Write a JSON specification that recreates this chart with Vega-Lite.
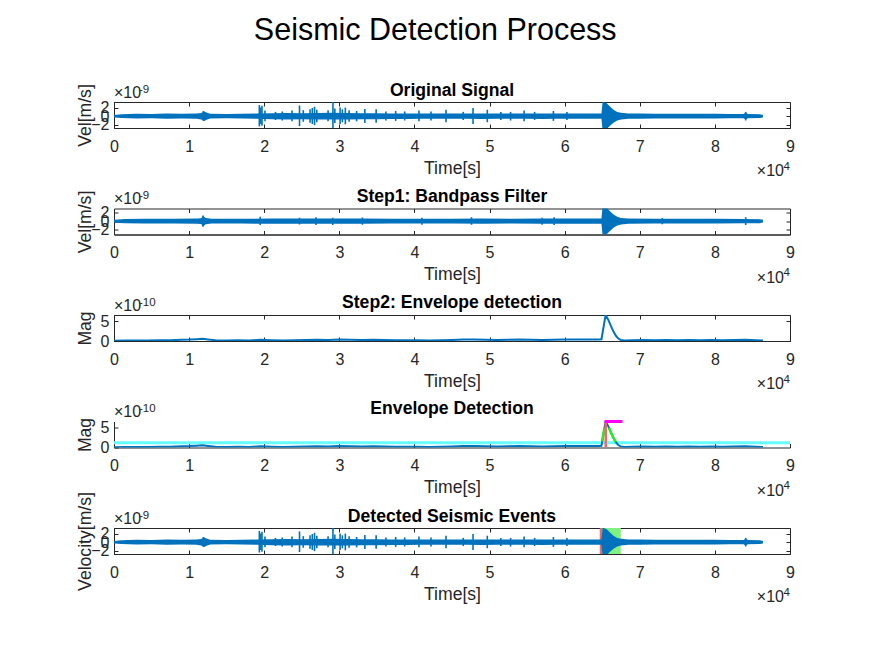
{
  "$schema": "https://vega.github.io/schema/vega-lite/v6.json",
  "padding": {"left": 75, "top": 16, "right": 5, "bottom": 5},
  "background": "white",
  "title": {"text": "Seismic Detection Process", "fontSize": 30.5, "fontWeight": "normal", "color": "#000000", "anchor": "middle", "frame": "bounds", "offset": 34.5, "font": "Liberation Sans"},
  "config": {
    "font": "Liberation Sans",
    "view": {"stroke": "#262626", "strokeWidth": 1},
    "axis": {"grid": false, "labelFontSize": 16, "titleFontSize": 17.6, "titleFontWeight": "normal", "labelColor": "#262626", "titleColor": "#262626", "domainColor": "#262626", "tickColor": "#262626", "tickSize": -4, "labelFont": "Liberation Sans", "titleFont": "Liberation Sans"}
  },
  "datasets": {
    "sig1": [
      {"t": 0, "lo": -0.3, "hi": 0.3}, {"t": 1000, "lo": -0.45, "hi": 0.45}, {"t": 3000, "lo": -0.55, "hi": 0.55}, {"t": 5000, "lo": -0.5, "hi": 0.5},
      {"t": 7000, "lo": -0.6, "hi": 0.6}, {"t": 9000, "lo": -0.55, "hi": 0.55}, {"t": 11000, "lo": -0.6, "hi": 0.6}, {"t": 11600, "lo": -0.75, "hi": 0.75},
      {"t": 12000, "lo": -1.1, "hi": 1.1}, {"t": 12400, "lo": -0.8, "hi": 0.8}, {"t": 12800, "lo": -0.55, "hi": 0.55}, {"t": 15000, "lo": -0.5, "hi": 0.5},
      {"t": 17000, "lo": -0.55, "hi": 0.55}, {"t": 19000, "lo": -0.6, "hi": 0.6}, {"t": 21000, "lo": -0.7, "hi": 0.7}, {"t": 23000, "lo": -0.75, "hi": 0.75},
      {"t": 25000, "lo": -0.7, "hi": 0.7}, {"t": 27000, "lo": -0.75, "hi": 0.75}, {"t": 29000, "lo": -0.8, "hi": 0.8}, {"t": 31000, "lo": -0.75, "hi": 0.75},
      {"t": 33000, "lo": -0.7, "hi": 0.7}, {"t": 35000, "lo": -0.7, "hi": 0.7}, {"t": 37000, "lo": -0.65, "hi": 0.65}, {"t": 39000, "lo": -0.65, "hi": 0.65},
      {"t": 41000, "lo": -0.6, "hi": 0.6}, {"t": 43000, "lo": -0.6, "hi": 0.6}, {"t": 45000, "lo": -0.6, "hi": 0.6}, {"t": 47000, "lo": -0.6, "hi": 0.6},
      {"t": 49000, "lo": -0.65, "hi": 0.65}, {"t": 51000, "lo": -0.6, "hi": 0.6}, {"t": 53000, "lo": -0.6, "hi": 0.6}, {"t": 55000, "lo": -0.6, "hi": 0.6},
      {"t": 57000, "lo": -0.65, "hi": 0.65}, {"t": 59000, "lo": -0.6, "hi": 0.6}, {"t": 61000, "lo": -0.6, "hi": 0.6}, {"t": 63000, "lo": -0.6, "hi": 0.6},
      {"t": 64900, "lo": -0.6, "hi": 0.6}, {"t": 65050, "lo": -3.4, "hi": 3.4}, {"t": 65600, "lo": -3.0, "hi": 3.0}, {"t": 66000, "lo": -2.3, "hi": 2.3},
      {"t": 66500, "lo": -1.5, "hi": 1.5}, {"t": 67000, "lo": -1.0, "hi": 1.0}, {"t": 67500, "lo": -0.8, "hi": 0.8}, {"t": 68500, "lo": -0.6, "hi": 0.6},
      {"t": 70000, "lo": -0.6, "hi": 0.6}, {"t": 72000, "lo": -0.55, "hi": 0.55}, {"t": 74000, "lo": -0.55, "hi": 0.55}, {"t": 76000, "lo": -0.55, "hi": 0.55},
      {"t": 78000, "lo": -0.55, "hi": 0.55}, {"t": 80000, "lo": -0.55, "hi": 0.55}, {"t": 82000, "lo": -0.5, "hi": 0.5}, {"t": 83800, "lo": -0.5, "hi": 0.5},
      {"t": 84100, "lo": -0.8, "hi": 0.8}, {"t": 84400, "lo": -0.5, "hi": 0.5}, {"t": 86000, "lo": -0.45, "hi": 0.45}, {"t": 86400, "lo": -0.3, "hi": 0.3}
    ],
    "spk1": [
      {"t": 11900, "lo": -1.1, "hi": 1.2}, {"t": 19350, "lo": -2.4, "hi": 2.6}, {"t": 19550, "lo": -1.8, "hi": 2.0}, {"t": 19700, "lo": -2.2, "hi": 2.4},
      {"t": 20100, "lo": -1.2, "hi": 1.3}, {"t": 21500, "lo": -0.9, "hi": 1.0}, {"t": 22400, "lo": -1.0, "hi": 1.1}, {"t": 23700, "lo": -1.2, "hi": 1.3},
      {"t": 24700, "lo": -2.3, "hi": 2.5}, {"t": 25200, "lo": -1.3, "hi": 1.4}, {"t": 26100, "lo": -1.5, "hi": 1.6}, {"t": 26400, "lo": -1.8, "hi": 1.9},
      {"t": 26700, "lo": -2.1, "hi": 2.2}, {"t": 27000, "lo": -1.4, "hi": 1.5}, {"t": 28500, "lo": -1.2, "hi": 1.4}, {"t": 29150, "lo": -3.0, "hi": 3.4},
      {"t": 29400, "lo": -1.6, "hi": 1.8}, {"t": 30100, "lo": -1.8, "hi": 2.0}, {"t": 30400, "lo": -1.4, "hi": 1.6}, {"t": 30800, "lo": -1.9, "hi": 2.0},
      {"t": 31300, "lo": -1.3, "hi": 1.4}, {"t": 32300, "lo": -1.2, "hi": 1.2}, {"t": 33400, "lo": -1.6, "hi": 1.7}, {"t": 34900, "lo": -1.5, "hi": 1.6},
      {"t": 36200, "lo": -1.0, "hi": 1.1}, {"t": 37500, "lo": -1.1, "hi": 1.2}, {"t": 38700, "lo": -1.0, "hi": 1.1}, {"t": 40600, "lo": -1.2, "hi": 1.3},
      {"t": 42200, "lo": -1.0, "hi": 1.1}, {"t": 44200, "lo": -1.4, "hi": 1.5}, {"t": 46500, "lo": -0.9, "hi": 1.0}, {"t": 47800, "lo": -1.8, "hi": 1.9},
      {"t": 49700, "lo": -1.4, "hi": 1.5}, {"t": 51500, "lo": -0.9, "hi": 1.0}, {"t": 52800, "lo": -1.0, "hi": 1.0}, {"t": 54600, "lo": -1.2, "hi": 1.3},
      {"t": 56000, "lo": -0.9, "hi": 1.0}, {"t": 58500, "lo": -1.1, "hi": 1.2}, {"t": 60300, "lo": -0.9, "hi": 1.0}, {"t": 84100, "lo": -1.0, "hi": 1.0}
    ],
    "sig2": [
      {"t": 0, "lo": -0.35, "hi": 0.35}, {"t": 1500, "lo": -0.5, "hi": 0.5}, {"t": 4000, "lo": -0.55, "hi": 0.55}, {"t": 8000, "lo": -0.55, "hi": 0.55},
      {"t": 11000, "lo": -0.6, "hi": 0.6}, {"t": 11600, "lo": -0.65, "hi": 0.65}, {"t": 11850, "lo": -1.2, "hi": 1.2}, {"t": 12200, "lo": -0.7, "hi": 0.7},
      {"t": 13000, "lo": -0.55, "hi": 0.55}, {"t": 17000, "lo": -0.55, "hi": 0.55}, {"t": 21000, "lo": -0.6, "hi": 0.6}, {"t": 25000, "lo": -0.6, "hi": 0.6},
      {"t": 29000, "lo": -0.6, "hi": 0.6}, {"t": 33000, "lo": -0.6, "hi": 0.6}, {"t": 37000, "lo": -0.55, "hi": 0.55}, {"t": 41000, "lo": -0.55, "hi": 0.55},
      {"t": 45000, "lo": -0.55, "hi": 0.55}, {"t": 49000, "lo": -0.6, "hi": 0.6}, {"t": 53000, "lo": -0.55, "hi": 0.55}, {"t": 57000, "lo": -0.6, "hi": 0.6},
      {"t": 61000, "lo": -0.6, "hi": 0.6}, {"t": 64900, "lo": -0.6, "hi": 0.6}, {"t": 65050, "lo": -3.4, "hi": 3.4}, {"t": 65600, "lo": -3.0, "hi": 3.0},
      {"t": 66000, "lo": -2.3, "hi": 2.3}, {"t": 66500, "lo": -1.5, "hi": 1.5}, {"t": 67000, "lo": -1.0, "hi": 1.0}, {"t": 67500, "lo": -0.75, "hi": 0.75},
      {"t": 68500, "lo": -0.6, "hi": 0.6}, {"t": 72000, "lo": -0.55, "hi": 0.55}, {"t": 76000, "lo": -0.55, "hi": 0.55}, {"t": 80000, "lo": -0.55, "hi": 0.55},
      {"t": 84000, "lo": -0.5, "hi": 0.5}, {"t": 86000, "lo": -0.45, "hi": 0.45}, {"t": 86400, "lo": -0.3, "hi": 0.3}
    ],
    "spk2": [
      {"t": 11850, "lo": -1.3, "hi": 1.3}, {"t": 19470, "lo": -0.9, "hi": 1.0}, {"t": 24700, "lo": -0.75, "hi": 0.8}, {"t": 26900, "lo": -0.9, "hi": 0.9},
      {"t": 29120, "lo": -0.85, "hi": 0.8}, {"t": 33070, "lo": -0.8, "hi": 0.85}, {"t": 41000, "lo": -0.8, "hi": 0.8}, {"t": 47600, "lo": -0.8, "hi": 0.9},
      {"t": 57000, "lo": -0.8, "hi": 0.8}, {"t": 58600, "lo": -0.9, "hi": 0.9}, {"t": 73000, "lo": -0.7, "hi": 0.75}, {"t": 84100, "lo": -0.9, "hi": 0.9}
    ],
    "env": [
      {"t": 0, "v": 0.05}, {"t": 1500, "v": 0.1}, {"t": 3000, "v": 0.12}, {"t": 4500, "v": 0.15}, {"t": 6000, "v": 0.22}, {"t": 7500, "v": 0.2},
      {"t": 9000, "v": 0.3}, {"t": 10000, "v": 0.35}, {"t": 11000, "v": 0.45}, {"t": 11800, "v": 0.55}, {"t": 12500, "v": 0.4}, {"t": 13500, "v": 0.2},
      {"t": 15000, "v": 0.15}, {"t": 16500, "v": 0.18}, {"t": 18000, "v": 0.15}, {"t": 19500, "v": 0.3}, {"t": 21000, "v": 0.2}, {"t": 22500, "v": 0.15},
      {"t": 24000, "v": 0.2}, {"t": 25500, "v": 0.25}, {"t": 27000, "v": 0.3}, {"t": 28500, "v": 0.25}, {"t": 30000, "v": 0.35}, {"t": 31500, "v": 0.3},
      {"t": 33000, "v": 0.25}, {"t": 34500, "v": 0.3}, {"t": 36000, "v": 0.25}, {"t": 37500, "v": 0.2}, {"t": 39000, "v": 0.2}, {"t": 40500, "v": 0.2},
      {"t": 42000, "v": 0.15}, {"t": 43500, "v": 0.2}, {"t": 45000, "v": 0.25}, {"t": 46500, "v": 0.35}, {"t": 48000, "v": 0.4}, {"t": 49500, "v": 0.3},
      {"t": 51000, "v": 0.25}, {"t": 52500, "v": 0.3}, {"t": 54000, "v": 0.35}, {"t": 55500, "v": 0.3}, {"t": 57000, "v": 0.25}, {"t": 58500, "v": 0.3},
      {"t": 60000, "v": 0.35}, {"t": 61500, "v": 0.4}, {"t": 63000, "v": 0.35}, {"t": 64500, "v": 0.4}, {"t": 64900, "v": 0.45}, {"t": 65450, "v": 6.6},
      {"t": 65800, "v": 5.4}, {"t": 66140, "v": 3.9}, {"t": 66500, "v": 2.4}, {"t": 66810, "v": 1.35}, {"t": 67100, "v": 0.7}, {"t": 67480, "v": 0.25},
      {"t": 68000, "v": 0.15}, {"t": 69000, "v": 0.2}, {"t": 70500, "v": 0.25}, {"t": 72000, "v": 0.2}, {"t": 73500, "v": 0.25}, {"t": 75000, "v": 0.2},
      {"t": 76500, "v": 0.25}, {"t": 78000, "v": 0.2}, {"t": 79500, "v": 0.25}, {"t": 81000, "v": 0.2}, {"t": 82500, "v": 0.25}, {"t": 84000, "v": 0.3},
      {"t": 85500, "v": 0.2}, {"t": 86400, "v": 0.15}
    ],
    "green": [
      {"t": 65000, "v": 1.6, "seg": "rise"}, {"t": 65300, "v": 5.0, "seg": "rise"},
      {"t": 65900, "v": 5.0, "seg": "fall"}, {"t": 66140, "v": 3.9, "seg": "fall"}, {"t": 66500, "v": 2.4, "seg": "fall"}, {"t": 66810, "v": 1.35, "seg": "fall"}
    ],
    "thr": [{"v": 1.2}],
    "trig": [{"t": 65470, "v0": 0, "v1": 6.6}],
    "peak": [{"t0": 65300, "t1": 67700, "v": 6.6}],
    "events": [{"t0": 64670, "t1": 65030, "kind": "onset"}, {"t0": 65030, "t1": 67470, "kind": "event"}],
    "one": [{}]
  },
  "bounds": "flush",
  "spacing": 80.5,
  "vconcat": [
    {
      "width": 676, "height": 26,
      "title": {"text": "Original Signal", "frame": "group", "anchor": "middle", "fontSize": 17.6, "fontWeight": "bold", "color": "#000000", "offset": -30, "baseline": "alphabetic"},
      "layer": [
        {"data": {"name": "sig1"}, "mark": {"type": "area", "color": "#0072BD", "clip": true},
         "encoding": {
           "x": {"field": "t", "type": "quantitative", "scale": {"domain": [0, 90000], "nice": false, "zero": false},
                 "axis": {"orient": "bottom", "values": [0,10000,20000,30000,40000,50000,60000,70000,80000,90000], "labelExpr": "format(datum.value/10000,'d')", "title": "Time[s]", "labelPadding": 14, "titleY": 40, "titleBaseline": "middle", "labelFlush": false, "labelOverlap": false}},
           "y": {"field": "lo", "type": "quantitative", "scale": {"domain": [-2.75, 3.3], "nice": false, "zero": false},
                 "axis": {"orient": "left", "values": [-2, 0, 2], "title": "Vel[m/s]", "labelPadding": 9, "titleX": -29, "titleBaseline": "middle", "labelOverlap": false}},
           "y2": {"field": "hi"}}},
        {"data": {"name": "spk1"}, "mark": {"type": "rule", "color": "#0072BD", "strokeWidth": 1.6, "clip": true},
         "encoding": {"x": {"field": "t", "type": "quantitative", "axis": null}, "y": {"field": "lo", "type": "quantitative", "axis": null}, "y2": {"field": "hi"}}},
        {"data": {"name": "one"}, "mark": {"type": "text", "align": "left", "baseline": "alphabetic", "yOffset": -4.4, "fontSize": 16, "color": "#262626"},
         "encoding": {
           "x": {"datum": 0, "type": "quantitative", "axis": {"orient": "top", "values": [0,10000,20000,30000,40000,50000,60000,70000,80000,90000], "labels": false, "title": null, "domain": false}},
           "y": {"datum": 3.3, "type": "quantitative", "axis": {"orient": "right", "values": [-2, 0, 2], "labels": false, "title": null, "domain": false}},
           "text": {"value": "×10"}}},
        {"data": {"name": "one"}, "mark": {"type": "text", "align": "left", "baseline": "alphabetic", "xOffset": 25, "yOffset": -9.5, "fontSize": 11.5, "color": "#262626"},
         "encoding": {"x": {"datum": 0, "type": "quantitative", "axis": null}, "y": {"datum": 3.3, "type": "quantitative", "axis": null}, "text": {"value": "-9"}}},
        {"data": {"name": "one"}, "mark": {"type": "text", "align": "right", "baseline": "alphabetic", "xOffset": -6, "yOffset": 48.4, "fontSize": 16, "color": "#262626"},
         "encoding": {"x": {"datum": 90000, "type": "quantitative", "axis": null}, "y": {"datum": -2.75, "type": "quantitative", "axis": null}, "text": {"value": "×10"}}},
        {"data": {"name": "one"}, "mark": {"type": "text", "align": "right", "baseline": "alphabetic", "xOffset": 0, "yOffset": 41.7, "fontSize": 11.5, "color": "#262626"},
         "encoding": {"x": {"datum": 90000, "type": "quantitative", "axis": null}, "y": {"datum": -2.75, "type": "quantitative", "axis": null}, "text": {"value": "4"}}}
      ],
      "resolve": {"axis": {"x": "independent", "y": "independent"}}
    },
    {
      "width": 676, "height": 26,
      "title": {"text": "Step1: Bandpass Filter", "frame": "group", "anchor": "middle", "fontSize": 17.6, "fontWeight": "bold", "color": "#000000", "offset": -30, "baseline": "alphabetic"},
      "layer": [
        {"data": {"name": "sig2"}, "mark": {"type": "area", "color": "#0072BD", "clip": true},
         "encoding": {
           "x": {"field": "t", "type": "quantitative", "scale": {"domain": [0, 90000], "nice": false, "zero": false},
                 "axis": {"orient": "bottom", "values": [0,10000,20000,30000,40000,50000,60000,70000,80000,90000], "labelExpr": "format(datum.value/10000,'d')", "title": "Time[s]", "labelPadding": 14, "titleY": 40, "titleBaseline": "middle", "labelFlush": false, "labelOverlap": false}},
           "y": {"field": "lo", "type": "quantitative", "scale": {"domain": [-3.05, 2.9], "nice": false, "zero": false},
                 "axis": {"orient": "left", "values": [-2, 0, 2], "title": "Vel[m/s]", "labelPadding": 9, "titleX": -29, "titleBaseline": "middle", "labelOverlap": false}},
           "y2": {"field": "hi"}}},
        {"data": {"name": "spk2"}, "mark": {"type": "rule", "color": "#0072BD", "strokeWidth": 1.6, "clip": true},
         "encoding": {"x": {"field": "t", "type": "quantitative", "axis": null}, "y": {"field": "lo", "type": "quantitative", "axis": null}, "y2": {"field": "hi"}}},
        {"data": {"name": "one"}, "mark": {"type": "text", "align": "left", "baseline": "alphabetic", "yOffset": -4.4, "fontSize": 16, "color": "#262626"},
         "encoding": {
           "x": {"datum": 0, "type": "quantitative", "axis": {"orient": "top", "values": [0,10000,20000,30000,40000,50000,60000,70000,80000,90000], "labels": false, "title": null, "domain": false}},
           "y": {"datum": 2.9, "type": "quantitative", "axis": {"orient": "right", "values": [-2, 0, 2], "labels": false, "title": null, "domain": false}},
           "text": {"value": "×10"}}},
        {"data": {"name": "one"}, "mark": {"type": "text", "align": "left", "baseline": "alphabetic", "xOffset": 25, "yOffset": -9.5, "fontSize": 11.5, "color": "#262626"},
         "encoding": {"x": {"datum": 0, "type": "quantitative", "axis": null}, "y": {"datum": 2.9, "type": "quantitative", "axis": null}, "text": {"value": "-9"}}},
        {"data": {"name": "one"}, "mark": {"type": "text", "align": "right", "baseline": "alphabetic", "xOffset": -6, "yOffset": 48.4, "fontSize": 16, "color": "#262626"},
         "encoding": {"x": {"datum": 90000, "type": "quantitative", "axis": null}, "y": {"datum": -3.05, "type": "quantitative", "axis": null}, "text": {"value": "×10"}}},
        {"data": {"name": "one"}, "mark": {"type": "text", "align": "right", "baseline": "alphabetic", "xOffset": 0, "yOffset": 41.7, "fontSize": 11.5, "color": "#262626"},
         "encoding": {"x": {"datum": 90000, "type": "quantitative", "axis": null}, "y": {"datum": -3.05, "type": "quantitative", "axis": null}, "text": {"value": "4"}}}
      ],
      "resolve": {"axis": {"x": "independent", "y": "independent"}}
    },
    {
      "width": 676, "height": 26,
      "title": {"text": "Step2: Envelope detection", "frame": "group", "anchor": "middle", "fontSize": 17.6, "fontWeight": "bold", "color": "#000000", "offset": -29, "baseline": "alphabetic"},
      "layer": [
        {"data": {"name": "env"}, "mark": {"type": "line", "color": "#0072BD", "strokeWidth": 2, "clip": true},
         "encoding": {
           "x": {"field": "t", "type": "quantitative", "scale": {"domain": [0, 90000], "nice": false, "zero": false},
                 "axis": {"orient": "bottom", "values": [0,10000,20000,30000,40000,50000,60000,70000,80000,90000], "labelExpr": "format(datum.value/10000,'d')", "title": "Time[s]", "labelPadding": 14, "titleY": 40, "titleBaseline": "middle", "labelFlush": false, "labelOverlap": false}},
           "y": {"field": "v", "type": "quantitative", "scale": {"domain": [0, 6.6], "nice": false, "zero": false},
                 "axis": {"orient": "left", "values": [0, 5], "title": "Mag", "labelPadding": 9, "titleX": -29, "titleBaseline": "middle", "labelOverlap": false}}}},
        {"data": {"name": "one"}, "mark": {"type": "text", "align": "left", "baseline": "alphabetic", "yOffset": -4.4, "fontSize": 16, "color": "#262626"},
         "encoding": {
           "x": {"datum": 0, "type": "quantitative", "axis": {"orient": "top", "values": [0,10000,20000,30000,40000,50000,60000,70000,80000,90000], "labels": false, "title": null, "domain": false}},
           "y": {"datum": 6.6, "type": "quantitative", "axis": {"orient": "right", "values": [0, 5], "labels": false, "title": null, "domain": false}},
           "text": {"value": "×10"}}},
        {"data": {"name": "one"}, "mark": {"type": "text", "align": "left", "baseline": "alphabetic", "xOffset": 25, "yOffset": -9.5, "fontSize": 11.5, "color": "#262626"},
         "encoding": {"x": {"datum": 0, "type": "quantitative", "axis": null}, "y": {"datum": 6.6, "type": "quantitative", "axis": null}, "text": {"value": "-10"}}},
        {"data": {"name": "one"}, "mark": {"type": "text", "align": "right", "baseline": "alphabetic", "xOffset": -6, "yOffset": 48.4, "fontSize": 16, "color": "#262626"},
         "encoding": {"x": {"datum": 90000, "type": "quantitative", "axis": null}, "y": {"datum": 0, "type": "quantitative", "axis": null}, "text": {"value": "×10"}}},
        {"data": {"name": "one"}, "mark": {"type": "text", "align": "right", "baseline": "alphabetic", "xOffset": 0, "yOffset": 41.7, "fontSize": 11.5, "color": "#262626"},
         "encoding": {"x": {"datum": 90000, "type": "quantitative", "axis": null}, "y": {"datum": 0, "type": "quantitative", "axis": null}, "text": {"value": "4"}}}
      ],
      "resolve": {"axis": {"x": "independent", "y": "independent"}}
    },
    {
      "width": 676, "height": 26,
      "view": {"stroke": null},
      "title": {"text": "Envelope Detection", "frame": "group", "anchor": "middle", "fontSize": 17.6, "fontWeight": "bold", "color": "#000000", "offset": -29, "baseline": "alphabetic"},
      "layer": [
        {"data": {"name": "thr"}, "mark": {"type": "rule", "color": "#66ffff", "strokeWidth": 3, "clip": true},
         "encoding": {"y": {"field": "v", "type": "quantitative", "scale": {"domain": [0, 6.6], "nice": false, "zero": false}, "axis": null}}},
        {"data": {"name": "env"}, "mark": {"type": "line", "color": "#0072BD", "strokeWidth": 2, "clip": true},
         "encoding": {
           "x": {"field": "t", "type": "quantitative", "scale": {"domain": [0, 90000], "nice": false, "zero": false},
                 "axis": {"orient": "bottom", "values": [0,10000,20000,30000,40000,50000,60000,70000,80000,90000], "labelExpr": "format(datum.value/10000,'d')", "title": "Time[s]", "labelPadding": 14, "titleY": 40, "titleBaseline": "middle", "labelFlush": false, "labelOverlap": false}},
           "y": {"field": "v", "type": "quantitative",
                 "axis": {"orient": "left", "values": [0, 5], "title": "Mag", "labelPadding": 9, "titleX": -29, "titleBaseline": "middle", "labelOverlap": false}}}},
        {"data": {"name": "green"}, "mark": {"type": "line", "color": "#22ee22", "strokeWidth": 2.5, "clip": true},
         "encoding": {"x": {"field": "t", "type": "quantitative", "axis": null}, "y": {"field": "v", "type": "quantitative", "axis": null}, "detail": {"field": "seg"}}},
        {"data": {"name": "trig"}, "mark": {"type": "rule", "color": "#f76565", "strokeWidth": 2.5, "clip": true},
         "encoding": {"x": {"field": "t", "type": "quantitative", "axis": null}, "y": {"field": "v0", "type": "quantitative", "axis": null}, "y2": {"field": "v1"}}},
        {"data": {"name": "peak"}, "mark": {"type": "rule", "color": "#ff00ff", "strokeWidth": 3},
         "encoding": {"x": {"field": "t0", "type": "quantitative", "axis": null}, "x2": {"field": "t1"}, "y": {"field": "v", "type": "quantitative", "axis": null}}},
        {"data": {"name": "one"}, "mark": {"type": "text", "align": "left", "baseline": "alphabetic", "yOffset": -4.4, "fontSize": 16, "color": "#262626"},
         "encoding": {"x": {"datum": 0, "type": "quantitative", "axis": null}, "y": {"datum": 6.6, "type": "quantitative", "axis": null}, "text": {"value": "×10"}}},
        {"data": {"name": "one"}, "mark": {"type": "text", "align": "left", "baseline": "alphabetic", "xOffset": 25, "yOffset": -9.5, "fontSize": 11.5, "color": "#262626"},
         "encoding": {"x": {"datum": 0, "type": "quantitative", "axis": null}, "y": {"datum": 6.6, "type": "quantitative", "axis": null}, "text": {"value": "-10"}}},
        {"data": {"name": "one"}, "mark": {"type": "text", "align": "right", "baseline": "alphabetic", "xOffset": -6, "yOffset": 48.4, "fontSize": 16, "color": "#262626"},
         "encoding": {"x": {"datum": 90000, "type": "quantitative", "axis": null}, "y": {"datum": 0, "type": "quantitative", "axis": null}, "text": {"value": "×10"}}},
        {"data": {"name": "one"}, "mark": {"type": "text", "align": "right", "baseline": "alphabetic", "xOffset": 0, "yOffset": 41.7, "fontSize": 11.5, "color": "#262626"},
         "encoding": {"x": {"datum": 90000, "type": "quantitative", "axis": null}, "y": {"datum": 0, "type": "quantitative", "axis": null}, "text": {"value": "4"}}}
      ],
      "resolve": {"axis": {"x": "independent", "y": "independent"}}
    },
    {
      "width": 676, "height": 26,
      "title": {"text": "Detected Seismic Events", "frame": "group", "anchor": "middle", "fontSize": 17.6, "fontWeight": "bold", "color": "#000000", "offset": -48, "baseline": "alphabetic"},
      "layer": [
        {"data": {"name": "events"}, "mark": {"type": "rect", "clip": true},
         "encoding": {
           "x": {"field": "t0", "type": "quantitative", "scale": {"domain": [0, 90000], "nice": false, "zero": false}, "axis": null},
           "x2": {"field": "t1"},
           "color": {"field": "kind", "type": "nominal", "scale": {"domain": ["onset", "event"], "range": ["#f06868", "#80f27f"]}, "legend": null}}},
        {"data": {"name": "sig1"}, "mark": {"type": "area", "color": "#0072BD", "clip": true},
         "encoding": {
           "x": {"field": "t", "type": "quantitative",
                 "axis": {"orient": "bottom", "values": [0,10000,20000,30000,40000,50000,60000,70000,80000,90000], "labelExpr": "format(datum.value/10000,'d')", "title": "Time[s]", "labelPadding": 14, "titleY": 40, "titleBaseline": "middle", "labelFlush": false, "labelOverlap": false}},
           "y": {"field": "lo", "type": "quantitative", "scale": {"domain": [-2.75, 3.3], "nice": false, "zero": false},
                 "axis": {"orient": "left", "values": [-2, 0, 2], "title": "Velocity[m/s]", "labelPadding": 9, "titleX": -29, "titleBaseline": "middle", "labelOverlap": false}},
           "y2": {"field": "hi"}}},
        {"data": {"name": "spk1"}, "mark": {"type": "rule", "color": "#0072BD", "strokeWidth": 1.6, "clip": true},
         "encoding": {"x": {"field": "t", "type": "quantitative", "axis": null}, "y": {"field": "lo", "type": "quantitative", "axis": null}, "y2": {"field": "hi"}}},
        {"data": {"name": "one"}, "mark": {"type": "text", "align": "left", "baseline": "alphabetic", "yOffset": -4.4, "fontSize": 16, "color": "#262626"},
         "encoding": {
           "x": {"datum": 0, "type": "quantitative", "axis": {"orient": "top", "values": [0,10000,20000,30000,40000,50000,60000,70000,80000,90000], "labels": false, "title": null, "domain": false}},
           "y": {"datum": 3.3, "type": "quantitative", "axis": {"orient": "right", "values": [-2, 0, 2], "labels": false, "title": null, "domain": false}},
           "text": {"value": "×10"}}},
        {"data": {"name": "one"}, "mark": {"type": "text", "align": "left", "baseline": "alphabetic", "xOffset": 25, "yOffset": -9.5, "fontSize": 11.5, "color": "#262626"},
         "encoding": {"x": {"datum": 0, "type": "quantitative", "axis": null}, "y": {"datum": 3.3, "type": "quantitative", "axis": null}, "text": {"value": "-9"}}},
        {"data": {"name": "one"}, "mark": {"type": "text", "align": "right", "baseline": "alphabetic", "xOffset": -6, "yOffset": 48.4, "fontSize": 16, "color": "#262626"},
         "encoding": {"x": {"datum": 90000, "type": "quantitative", "axis": null}, "y": {"datum": -2.75, "type": "quantitative", "axis": null}, "text": {"value": "×10"}}},
        {"data": {"name": "one"}, "mark": {"type": "text", "align": "right", "baseline": "alphabetic", "xOffset": 0, "yOffset": 41.7, "fontSize": 11.5, "color": "#262626"},
         "encoding": {"x": {"datum": 90000, "type": "quantitative", "axis": null}, "y": {"datum": -2.75, "type": "quantitative", "axis": null}, "text": {"value": "4"}}}
      ],
      "resolve": {"axis": {"x": "independent", "y": "independent"}}
    }
  ]
}
